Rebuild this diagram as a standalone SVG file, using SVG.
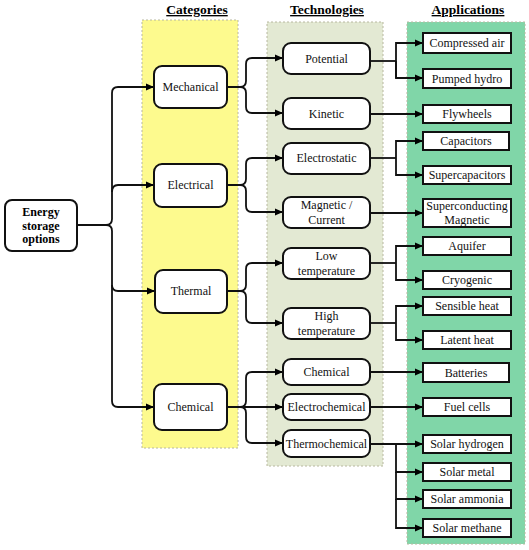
<svg xmlns="http://www.w3.org/2000/svg" width="529" height="550" viewBox="0 0 529 550">
<defs>
<marker id="ah" markerWidth="8" markerHeight="8" refX="8" refY="4" orient="auto" markerUnits="userSpaceOnUse">
<path d="M0,0.5 L8,4 L0,7.5 Z" fill="#000"/>
</marker>
<style>
text{font-family:"Liberation Serif","Times New Roman",Times,"DejaVu Serif",serif}
.hdr{font-weight:bold;font-size:13.5px;text-decoration:underline;text-anchor:middle;fill:#000}
.t{font-size:12px;text-anchor:middle;fill:#111}
.tb{font-size:12px;font-weight:bold;text-anchor:middle;fill:#000}
.rn{fill:#fff;stroke:#111;stroke-width:2}
.sn{fill:#fff;stroke:#111;stroke-width:2}
.c{fill:none;stroke:#111;stroke-width:1.8}
.ca{fill:none;stroke:#111;stroke-width:1.8;marker-end:url(#ah)}
.bg{stroke:#b8b8a0;stroke-width:1;stroke-dasharray:2,2}
</style>
</defs>
<g id="backgrounds">
<rect class="bg" x="142" y="20" width="96" height="428" fill="#fdfa8e"/>
<rect class="bg" x="267" y="22" width="116" height="444" fill="#e3e9d3"/>
<rect class="bg" x="407" y="22" width="118" height="522" fill="#80d6a8"/>
</g>
<g id="headers" font-family="Liberation Serif, serif">
<text class="hdr" x="197" y="14">Categories</text>
<text class="hdr" x="327" y="14">Technologies</text>
<text class="hdr" x="468" y="14">Applications</text>
</g>
<g id="connectors">
<path class="c" d="M77,225 H106 Q112,225 112,219"/>
<path class="ca" d="M112,219 V93 Q112,87 118,87 H154"/>
<path class="ca" d="M112,192 Q112,185 118,185 H154"/>
<path class="c" d="M106,225 Q112,225 112,231"/>
<path class="ca" d="M112,231 V285 Q112,291 118,291 H155"/>
<path class="ca" d="M112,285 V401 Q112,407 118,407 H154"/>
<path class="c" d="M227,87 H240 Q246,87 246,81 M240,87 Q246,87 246,93"/>
<path class="ca" d="M246,81 V64 Q246,58 252,58 H283"/>
<path class="ca" d="M246,93 V107 Q246,113 252,113 H283"/>
<path class="c" d="M227,185 H240 Q246,185 246,179 M240,185 Q246,185 246,191"/>
<path class="ca" d="M246,179 V164 Q246,158 252,158 H283"/>
<path class="ca" d="M246,191 V206 Q246,212 252,212 H283"/>
<path class="c" d="M227,291 H240 Q246,291 246,285 M240,291 Q246,291 246,297"/>
<path class="ca" d="M246,285 V269 Q246,263 252,263 H283"/>
<path class="ca" d="M246,297 V317 Q246,323 252,323 H283"/>
<path class="c" d="M227,407 H240 Q246,407 246,401 M240,407 Q246,407 246,413"/>
<path class="ca" d="M246,401 V378 Q246,372 252,372 H283"/>
<path class="ca" d="M227,407 H283"/>
<path class="ca" d="M246,413 V437 Q246,443 252,443 H283"/>
<path class="c" d="M370,61 H396"/>
<path class="ca" d="M396,78 V43 H423"/>
<path class="ca" d="M396,61 V78 H423"/>
<path class="ca" d="M370,114 H423"/>
<path class="c" d="M370,158 H396"/>
<path class="ca" d="M396,158 V141 H423"/>
<path class="ca" d="M396,158 V175 H423"/>
<path class="ca" d="M370,213 H423"/>
<path class="c" d="M370,263 H396"/>
<path class="ca" d="M396,263 V246 H423"/>
<path class="ca" d="M396,263 V280 H423"/>
<path class="c" d="M370,323 H396"/>
<path class="ca" d="M396,323 V306 H423"/>
<path class="ca" d="M396,323 V340 H423"/>
<path class="ca" d="M370,372 H423"/>
<path class="ca" d="M370,407 H423"/>
<path class="ca" d="M370,444 H423"/>
<path class="ca" d="M396,444 V472 H423"/>
<path class="ca" d="M396,472 V499 H423"/>
<path class="ca" d="M396,499 V528 H423"/>
</g>
<g id="root">
<rect class="rn" x="5" y="200" width="72" height="51" rx="7"/>
<text class="tb" x="41" y="216">Energy</text>
<text class="tb" x="41" y="229.5">storage</text>
<text class="tb" x="41" y="243">options</text>
</g>
<g id="cat-mechanical"><rect class="rn" x="154" y="66" width="73" height="42" rx="8"/><text class="t" x="190.5" y="91">Mechanical</text></g>
<g id="cat-electrical"><rect class="rn" x="154" y="164" width="73" height="43" rx="8"/><text class="t" x="190.5" y="189">Electrical</text></g>
<g id="cat-thermal"><rect class="rn" x="155" y="270" width="72" height="43" rx="8"/><text class="t" x="191" y="295">Thermal</text></g>
<g id="cat-chemical"><rect class="rn" x="154" y="384" width="73" height="46" rx="8"/><text class="t" x="190.5" y="411">Chemical</text></g>

<g id="tech-potential"><rect class="rn" x="283" y="43" width="87" height="31" rx="8"/><text class="t" x="326.5" y="63">Potential</text></g>
<g id="tech-kinetic"><rect class="rn" x="283" y="98" width="87" height="31" rx="8"/><text class="t" x="326.5" y="118">Kinetic</text></g>
<g id="tech-electrostatic"><rect class="rn" x="283" y="143" width="87" height="31" rx="8"/><text class="t" x="326.5" y="162">Electrostatic</text></g>
<g id="tech-magnetic"><rect class="rn" x="283" y="197" width="87" height="31" rx="8"/><text class="t" x="326.5" y="209">Magnetic /</text><text class="t" x="326.5" y="224">Current</text></g>
<g id="tech-low"><rect class="rn" x="283" y="248" width="87" height="31" rx="8"/><text class="t" x="326.5" y="260">Low</text><text class="t" x="326.5" y="275">temperature</text></g>
<g id="tech-high"><rect class="rn" x="283" y="308" width="87" height="31" rx="8"/><text class="t" x="326.5" y="320">High</text><text class="t" x="326.5" y="335">temperature</text></g>
<g id="tech-chemical"><rect class="rn" x="283" y="359" width="87" height="26" rx="8"/><text class="t" x="326.5" y="376">Chemical</text></g>
<g id="tech-electrochemical"><rect class="rn" x="283" y="394" width="87" height="26" rx="8"/><text class="t" x="326.5" y="411">Electrochemical</text></g>
<g id="tech-thermochemical"><rect class="rn" x="283" y="430" width="87" height="27" rx="8"/><text class="t" x="326.5" y="447.5">Thermochemical</text></g>

<g id="app-compressed"><rect class="sn" x="423" y="33" width="88" height="20"/><text class="t" x="467" y="47">Compressed air</text></g>
<g id="app-pumped"><rect class="sn" x="423" y="69" width="88" height="19"/><text class="t" x="467" y="82.5">Pumped hydro</text></g>
<g id="app-flywheels"><rect class="sn" x="423" y="105" width="88" height="18"/><text class="t" x="467" y="118">Flywheels</text></g>
<g id="app-capacitors"><rect class="sn" x="423" y="132" width="86" height="18"/><text class="t" x="466" y="145">Capacitors</text></g>
<g id="app-supercapacitors"><rect class="sn" x="423" y="166" width="88" height="18"/><text class="t" x="467" y="179">Supercapacitors</text></g>
<g id="app-superconducting"><rect class="sn" x="423" y="199" width="88" height="28"/><text class="t" x="467" y="210">Superconducting</text><text class="t" x="467" y="224">Magnetic</text></g>
<g id="app-aquifer"><rect class="sn" x="423" y="237" width="88" height="18"/><text class="t" x="467" y="250">Aquifer</text></g>
<g id="app-cryogenic"><rect class="sn" x="423" y="271" width="88" height="18"/><text class="t" x="467" y="284">Cryogenic</text></g>
<g id="app-sensible"><rect class="sn" x="423" y="297" width="88" height="18"/><text class="t" x="467" y="310">Sensible heat</text></g>
<g id="app-latent"><rect class="sn" x="423" y="331" width="88" height="18"/><text class="t" x="467" y="344">Latent heat</text></g>
<g id="app-batteries"><rect class="sn" x="423" y="363" width="86" height="19"/><text class="t" x="466" y="376.5">Batteries</text></g>
<g id="app-fuelcells"><rect class="sn" x="423" y="398" width="88" height="18"/><text class="t" x="467" y="411">Fuel cells</text></g>
<g id="app-solarhydrogen"><rect class="sn" x="423" y="435" width="88" height="18"/><text class="t" x="467" y="448">Solar hydrogen</text></g>
<g id="app-solarmetal"><rect class="sn" x="423" y="463" width="88" height="18"/><text class="t" x="467" y="476">Solar metal</text></g>
<g id="app-solarammonia"><rect class="sn" x="423" y="490" width="88" height="18"/><text class="t" x="467" y="503">Solar ammonia</text></g>
<g id="app-solarmethane"><rect class="sn" x="423" y="519" width="88" height="18"/><text class="t" x="467" y="532">Solar methane</text></g>
</svg>
